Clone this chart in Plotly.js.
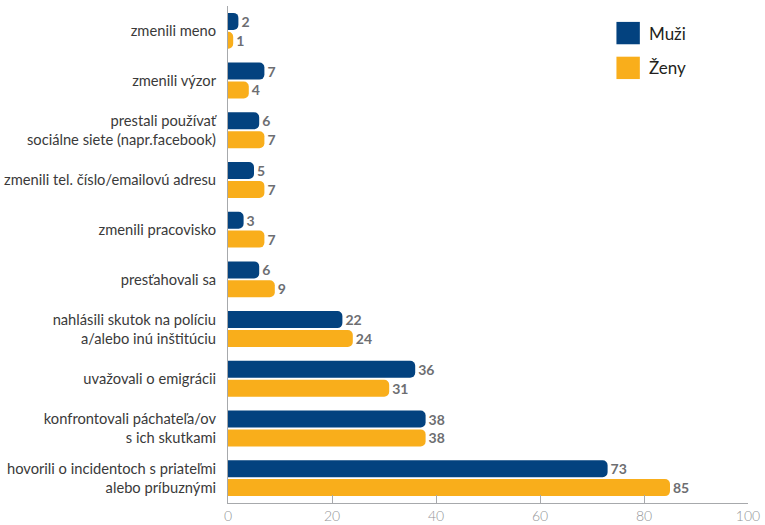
<!DOCTYPE html>
<html><head><meta charset="utf-8">
<script src="https://cdn.plot.ly/plotly-3.0.1.min.js"></script>
<style>html,body{margin:0;padding:0;background:#fff}</style>
</head><body>
<div id="chart" style="width:765px;height:525px"></div>
<script>
const categories = [
  "zmenili meno",
  "zmenili výzor",
  "prestali používať<br>sociálne siete (napr.facebook)",
  "zmenili tel. číslo/emailovú adresu",
  "zmenili pracovisko",
  "presťahovali sa",
  "nahlásili skutok na políciu<br>a/alebo inú inštitúciu",
  "uvažovali o emigrácii",
  "konfrontovali páchateľa/ov<br>s ich skutkami",
  "hovorili o incidentoch s priateľmi<br>alebo príbuznými"
];
const muzi = [2, 7, 6, 5, 3, 6, 22, 36, 38, 73];
const zeny = [1, 4, 7, 7, 7, 9, 24, 31, 38, 85];
const seriesNames = ["Muži", "Ženy"];
const colors = ["#03427f", "#f9ae1b"];
const xTicks = [0, 20, 40, 60, 80, 100];

const FONT = "Lato, sans-serif";

const traces = [muzi, zeny].map((vals, i) => ({
  type: "bar",
  orientation: "h",
  name: seriesNames[i],
  y: categories,
  x: vals,
  text: vals.map(String),
  textposition: "outside",
  cliponaxis: false,
  textfont: {family: FONT, size: 14, color: "#6d6e71", weight: "bold"},
  marker: {color: colors[i], cornerradius: 5},
  hoverinfo: "x+name"
}));

const shapes = [];
const annotations = [];
seriesNames.forEach((n, i) => {
  const y0 = 0.968 - i * 0.07;
  shapes.push({type: "rect", xref: "paper", yref: "paper",
    x0: 0.747, x1: 0.792, y0: y0 - 0.045, y1: y0, fillcolor: colors[i], line: {width: 0}});
  annotations.push({xref: "paper", yref: "paper", x: 0.806, y: y0 - 0.0225,
    xanchor: "left", yanchor: "middle", text: n, showarrow: false,
    font: {family: FONT, size: 17, color: "#231f20"}});
});

const layout = {
  width: 765, height: 525,
  margin: {l: 228, r: 17, t: 6, b: 22},
  paper_bgcolor: "#fff", plot_bgcolor: "#fff",
  barmode: "group",
  bargap: 0.24,
  bargroupgap: 0.1,
  showlegend: false,
  font: {family: FONT},
  xaxis: {
    range: [0, 100], tickvals: xTicks, ticktext: xTicks.map(String),
    showgrid: false, zeroline: false,
    showline: true, linecolor: "#a7a9ac", linewidth: 1,
    ticks: "inside", ticklen: 8, tickcolor: "#a7a9ac",
    ticklabelstandoff: 0,
    tickfont: {family: FONT, size: 14, color: "#939598", weight: 300},
    fixedrange: true
  },
  yaxis: {
    autorange: "reversed", type: "category",
    showgrid: false, zeroline: false,
    showline: true, linecolor: "#a7a9ac", linewidth: 1,
    ticks: "", ticklabelstandoff: 8,
    tickfont: {family: FONT, size: 14.7, color: "#3a3a3a"},
    fixedrange: true
  },
  shapes: shapes,
  annotations: annotations
};

Plotly.newPlot("chart", traces, layout, {displayModeBar: false, staticPlot: true});
</script>
</body></html>
